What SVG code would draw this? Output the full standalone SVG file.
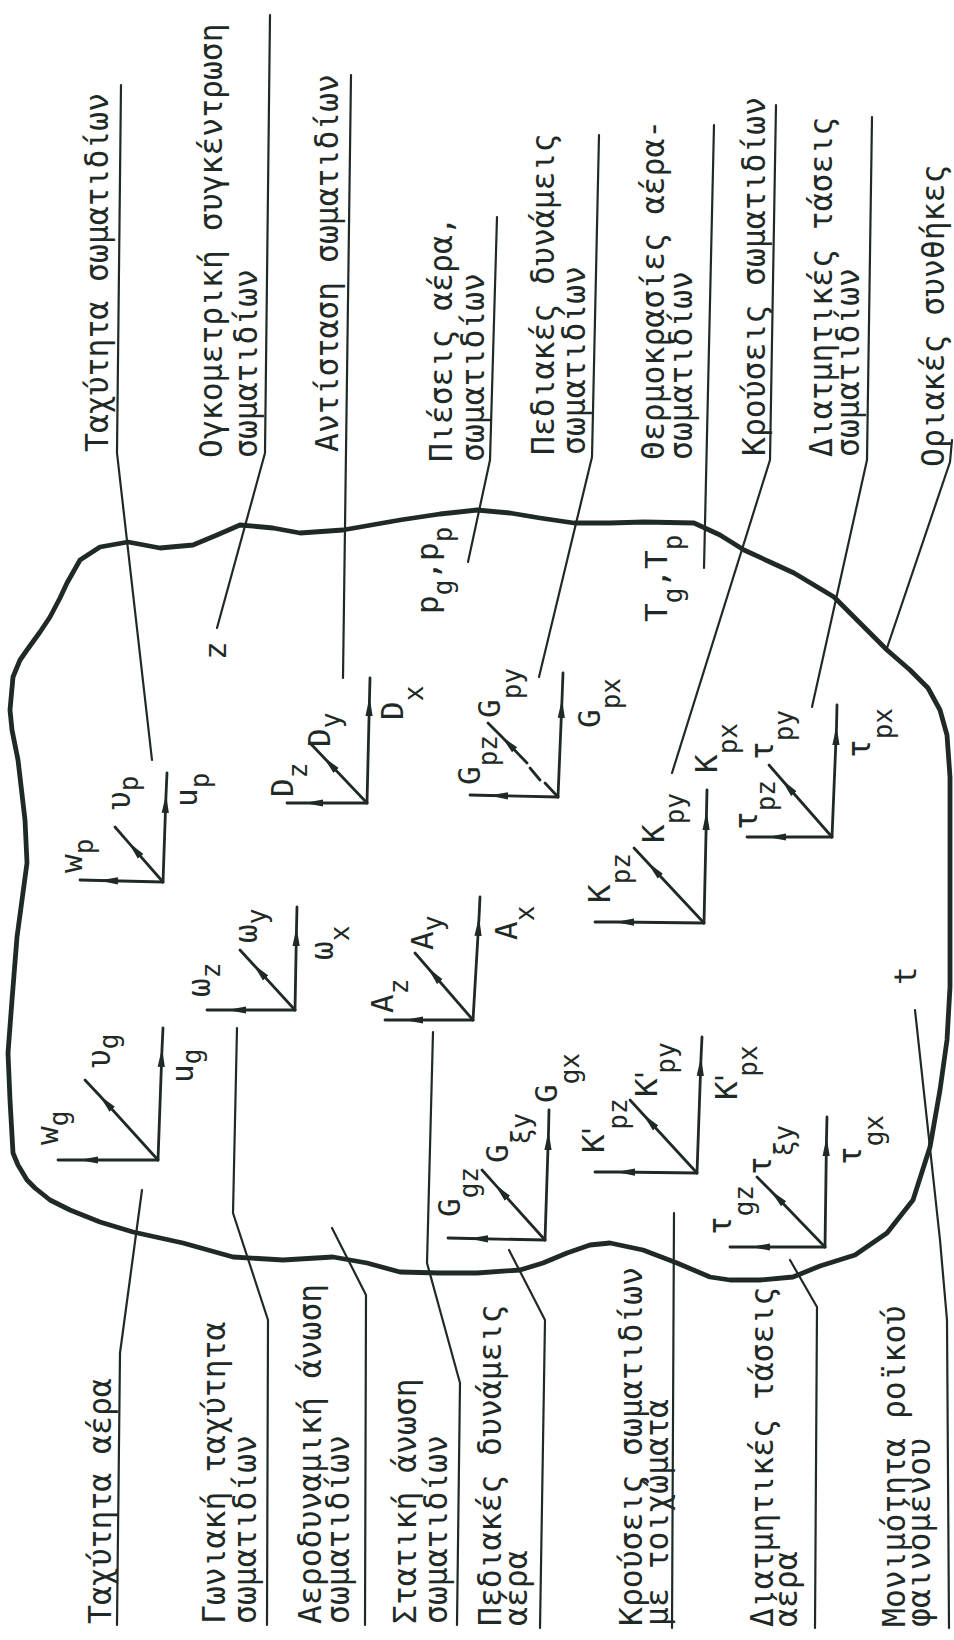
<svg xmlns="http://www.w3.org/2000/svg" width="954" height="1640" viewBox="0 0 954 1640">
<defs>
<style>
.ln{fill:none;stroke:#1f2a27;stroke-width:2.2;stroke-linecap:round;stroke-linejoin:round}
.ax{fill:none;stroke:#1f2a27;stroke-width:2.8;stroke-linecap:round}
.bd{fill:none;stroke:#1f2a27;stroke-width:4.8;stroke-linejoin:round;stroke-linecap:round}
text{font-family:"DejaVu Sans Mono","Liberation Mono",monospace;fill:#1f2a27}
.lb{font-size:31.4px}
.sy{font-size:31px}
.sb{font-size:26px}
</style>
<marker id="ah" viewBox="0 0 20 10" markerWidth="20" markerHeight="10" refX="18" refY="5" orient="auto" markerUnits="userSpaceOnUse"><path d="M0,1.4 L19,5 L0,8.6 Z" fill="#1f2a27"/></marker>
</defs>
<rect width="954" height="1640" fill="#ffffff"/>

<g id="boundary">
<path class="bd" d="M100,547 L128,542 L160,548 L193,545 L217,535 L240,525 L273,528 L300,533 L343,530 L400,520 L440,514 L477,510 L510,513 L540,518 L574,523 L610,523 L644,522 L694,523 L720,535 L744,550 L770,562 L794,573 L834,597 L860,623 L887,650 L910,670 L928,688 L940,710 L947,735 L950,777 L950,830 L950,900 L950,987 L947,1040 L940,1090 L930,1147 L913,1200 L887,1233 L855,1255 L820,1266 L793,1277 L760,1280 L730,1280 L710,1277 L677,1263 L643,1250 L610,1243 L590,1245 L567,1253 L543,1263 L520,1270 L477,1273 L440,1273 L400,1272 L367,1263 L333,1257 L283,1260 L233,1257 L183,1243 L133,1232 L100,1222 L70,1210 L50,1200 L35,1188 L27,1180 L18,1165 L13,1153 L10,1100 L8,1053 L12,1000 L17,937 L22,900 L27,863 L25,820 L20,777 L18,760 L12,730 L10,710 L13,677 L20,660 L27,650 L40,632 L50,617 L60,598 L67,583 L80,560 Z"/>
</g>

<g id="connectors">
<path class="ln" d="M121,85 L117,453 L152,760"/>
<path class="ln" d="M270,15 L265,453 L217,628"/>
<path class="ln" d="M351,75 L343,678"/>
<path class="ln" d="M497,217 L490,460 L468,562"/>
<path class="ln" d="M599,135 L592,457 L539,677"/>
<path class="ln" d="M714,125 L704,568"/>
<path class="ln" d="M776,105 L770,460 L672,773"/>
<path class="ln" d="M872,117 L867,460 L812,707"/>
<path class="ln" d="M952,440 L950,462 L887,648"/>
<path class="ln" d="M117,1625 L120,1353 L142,1190"/>
<path class="ln" d="M267,1625 L268,1320 L233,1213 L237,1028"/>
<path class="ln" d="M365,1625 L366,1295 L332,1228"/>
<path class="ln" d="M457,1625 L460,1383 L427,1263 L433,1032"/>
<path class="ln" d="M540,1628 L545,1320 L509,1250"/>
<path class="ln" d="M672,1628 L674,1213"/>
<path class="ln" d="M815,1628 L817,1307 L790,1260"/>
<path class="ln" d="M949,1628 L947,1320 L940,1240 L915,1010"/>
</g>

<g id="top-labels">
<g id="t-particle-velocity"><text class="lb" transform="translate(108,452) rotate(-90)">Ταχύτητα σωματιδίων</text></g>
<g id="t-volume-concentration"><text class="lb" transform="translate(222,458) rotate(-90)">Ογκομετρική συγκέντρωση</text><text class="lb" transform="translate(257,458) rotate(-90)">σωματιδίων</text></g>
<g id="t-particle-drag"><text class="lb" transform="translate(338,452) rotate(-90)">Αντίσταση σωματιδίων</text></g>
<g id="t-pressures"><text class="lb" transform="translate(452,462) rotate(-90)">Πιέσεις αέρα,</text><text class="lb" transform="translate(484,462) rotate(-90)">σωματιδίων</text></g>
<g id="t-particle-field-forces"><text class="lb" transform="translate(554,455) rotate(-90)">Πεδιακές δυνάμεις</text><text class="lb" transform="translate(585,455) rotate(-90)">σωματιδίων</text></g>
<g id="t-temperatures"><text class="lb" transform="translate(664,460) rotate(-90)">Θερμοκρασίες αέρα-</text><text class="lb" transform="translate(692,460) rotate(-90)">σωματιδίων</text></g>
<g id="t-particle-collisions"><text class="lb" transform="translate(765,456) rotate(-90)">Κρούσεις σωματιδίων</text></g>
<g id="t-particle-shear"><text class="lb" transform="translate(832,457) rotate(-90)">Διατμητικές τάσεις</text><text class="lb" transform="translate(859,457) rotate(-90)">σωματιδίων</text></g>
<g id="t-boundary-conditions"><text class="lb" transform="translate(944,467) rotate(-90)">Οριακές συνθήκες</text></g>
</g>

<g id="bottom-labels">
<g id="b-air-velocity"><text class="lb" transform="translate(111,1624) rotate(-90)">Ταχύτητα αέρα</text></g>
<g id="b-angular-velocity"><text class="lb" transform="translate(225,1624) rotate(-90)">Γωνιακή ταχύτητα</text><text class="lb" transform="translate(256,1624) rotate(-90)">σωματιδίων</text></g>
<g id="b-aero-lift"><text class="lb" transform="translate(321,1624) rotate(-90)">Αεροδυναμική άνωση</text><text class="lb" transform="translate(349,1624) rotate(-90)">σωματιδίων</text></g>
<g id="b-static-lift"><text class="lb" transform="translate(416,1624) rotate(-90)">Στατική άνωση</text><text class="lb" transform="translate(447,1624) rotate(-90)">σωματιδίων</text></g>
<g id="b-air-field-forces"><text class="lb" transform="translate(501,1626) rotate(-90)">Πεδιακές δυνάμεις</text><text class="lb" transform="translate(527,1626) rotate(-90)">αέρα</text></g>
<g id="b-wall-collisions"><text class="lb" transform="translate(642,1626) rotate(-90)">Κρούσεις σωματιδίων</text><text class="lb" transform="translate(668,1626) rotate(-90)">με τοιχώματα</text></g>
<g id="b-air-shear"><text class="lb" transform="translate(773,1627) rotate(-90)">Διατμητικές τάσεις</text><text class="lb" transform="translate(797,1627) rotate(-90)">αέρα</text></g>
<g id="b-steadiness"><text class="lb" transform="translate(905,1627) rotate(-90)">Μονιμότητα ροϊκού</text><text class="lb" transform="translate(930,1627) rotate(-90)">φαινομένου</text></g>
</g>

<g id="symbols">
<text class="sy" transform="translate(226,660) rotate(-90)">z</text>
<text class="sy" transform="translate(438,614) rotate(-90)">p<tspan class="sb" dy="14">g</tspan><tspan dy="-14">,p</tspan><tspan class="sb" dy="14">p</tspan></text>
<text class="sy" transform="translate(667,622) rotate(-90)">T<tspan class="sb" dy="15">g</tspan><tspan dy="-15">,T</tspan><tspan class="sb" dy="15">p</tspan></text>
<text class="sy" transform="translate(916,985) rotate(-90)">t</text>
</g>

<g id="air-velocity-axes">
<polyline class="ax" points="158,1160 80,1160 58,1160" marker-mid="url(#ah)"/>
<polyline class="ax" points="158,1160 162,1049 163,1028" marker-mid="url(#ah)"/>
<polyline class="ax" points="158,1160 100,1096 85,1080" marker-mid="url(#ah)"/>
<text class="sy" transform="translate(58,1145) rotate(-90)">w<tspan class="sb" dy="10">g</tspan></text>
<text class="sy" transform="translate(110,1068) rotate(-90)">υ<tspan class="sb" dy="8">g</tspan></text>
<text class="sy" transform="translate(193,1083) rotate(-90)">u<tspan class="sb" dy="8">g</tspan></text>
</g>

<g id="particle-velocity-axes">
<polyline class="ax" points="163,882 100,880.5 80,880" marker-mid="url(#ah)"/>
<polyline class="ax" points="163,882 166,795 167,773" marker-mid="url(#ah)"/>
<polyline class="ax" points="163,882 128.8,842.8 115,827" marker-mid="url(#ah)"/>
<text class="sy" transform="translate(82,873) rotate(-90)">w<tspan class="sb" dy="11">p</tspan></text>
<text class="sy" transform="translate(130,810) rotate(-90)">υ<tspan class="sb" dy="8">p</tspan></text>
<text class="sy" transform="translate(197,807) rotate(-90)">u<tspan class="sb" dy="12">p</tspan></text>
</g>

<g id="angular-velocity-axes">
<polyline class="ax" points="295,1010 228,1010 207,1010" marker-mid="url(#ah)"/>
<polyline class="ax" points="295,1010 296.5,928 297,907" marker-mid="url(#ah)"/>
<polyline class="ax" points="295,1010 253.5,964.7 240,950" marker-mid="url(#ah)"/>
<text class="sy" transform="translate(210,997) rotate(-90)">ω<tspan class="sb" dy="10">z</tspan></text>
<text class="sy" transform="translate(257,943) rotate(-90)">ω<tspan class="sb" dy="9">y</tspan></text>
<text class="sy" transform="translate(333,960) rotate(-90)">ω<tspan class="sb" dy="16">x</tspan></text>
</g>

<g id="static-lift-axes">
<polyline class="ax" points="473,1020 405,1020 385,1020" marker-mid="url(#ah)"/>
<polyline class="ax" points="473,1020 479,918 480,897" marker-mid="url(#ah)"/>
<polyline class="ax" points="473,1020 428,968 415,953" marker-mid="url(#ah)"/>
<text class="sy" transform="translate(393,1013) rotate(-90)">A<tspan class="sb" dy="15">z</tspan></text>
<text class="sy" transform="translate(433,950) rotate(-90)">A<tspan class="sb" dy="9">y</tspan></text>
<text class="sy" transform="translate(517,940) rotate(-90)">A<tspan class="sb" dy="17">x</tspan></text>
</g>

<g id="drag-axes">
<polyline class="ax" points="367,803 305,803 287,803" marker-mid="url(#ah)"/>
<polyline class="ax" points="367,803 369.5,698 370,678" marker-mid="url(#ah)"/>
<polyline class="ax" points="367,803 323.8,757.5 310,743" marker-mid="url(#ah)"/>
<text class="sy" transform="translate(293,797) rotate(-90)">D<tspan class="sb" dy="14">z</tspan></text>
<text class="sy" transform="translate(330,747) rotate(-90)">D<tspan class="sb" dy="10">y</tspan></text>
<text class="sy" transform="translate(403,720) rotate(-90)">D<tspan class="sb" dy="20">x</tspan></text>
</g>

<g id="particle-field-force-axes">
<polyline class="ax" points="558,797 490,795.5 470,795" marker-mid="url(#ah)"/>
<polyline class="ax" points="558,797 562,700 563,673" marker-mid="url(#ah)"/>
<polyline class="ax" points="527,763 502,737 488,723" marker-mid="url(#ah)"/>
<line class="ax" x1="530" y1="768" x2="540" y2="780"/>
<line class="ax" x1="545" y1="783" x2="558" y2="797"/>
<text class="sy" transform="translate(480,785) rotate(-90)">G<tspan class="sb" dy="17">pz</tspan></text>
<text class="sy" transform="translate(500,718) rotate(-90)">G<tspan class="sb" dy="21">py</tspan></text>
<text class="sy" transform="translate(600,728) rotate(-90)">G<tspan class="sb" dy="20">px</tspan></text>
</g>

<g id="particle-collision-axes">
<polyline class="ax" points="704,923 616,922 595,922" marker-mid="url(#ah)"/>
<polyline class="ax" points="704,923 706.5,812 707,790" marker-mid="url(#ah)"/>
<polyline class="ax" points="704,923 648,863 634,848" marker-mid="url(#ah)"/>
<text class="sy" transform="translate(610,903) rotate(-90)">K<tspan class="sb" dy="20">pz</tspan></text>
<text class="sy" transform="translate(664,843) rotate(-90)">K<tspan class="sb" dy="20">py</tspan></text>
<text class="sy" transform="translate(717,773) rotate(-90)">K<tspan class="sb" dy="20">px</tspan></text>
</g>

<g id="particle-shear-axes">
<polyline class="ax" points="832,837 768,837 747,837" marker-mid="url(#ah)"/>
<polyline class="ax" points="832,837 836.5,727 837,705" marker-mid="url(#ah)"/>
<polyline class="ax" points="832,837 782,780 769,765" marker-mid="url(#ah)"/>
<text class="sy" transform="translate(757,830) rotate(-90)">τ<tspan class="sb" dy="18">pz</tspan></text>
<text class="sy" transform="translate(773,760) rotate(-90)">τ<tspan class="sb" dy="20">py</tspan></text>
<text class="sy" transform="translate(870,758) rotate(-90)">τ<tspan class="sb" dy="22">px</tspan></text>
</g>

<g id="air-field-force-axes">
<polyline class="ax" points="545,1240 470,1238.5 448,1238" marker-mid="url(#ah)"/>
<polyline class="ax" points="545,1240 548.5,1132 549,1110" marker-mid="url(#ah)"/>
<polyline class="ax" points="545,1240 495.4,1184.9 482,1170" marker-mid="url(#ah)"/>
<text class="sy" transform="translate(460,1217) rotate(-90)">G<tspan class="sb" dy="18">gz</tspan></text>
<text class="sy" transform="translate(508,1163) rotate(-90)">G<tspan class="sb" dy="22">ξy</tspan></text>
<text class="sy" transform="translate(557,1103) rotate(-90)">G<tspan class="sb" dy="22">gx</tspan></text>
</g>

<g id="wall-collision-axes">
<polyline class="ax" points="697,1173 617,1172 595,1172" marker-mid="url(#ah)"/>
<polyline class="ax" points="697,1173 701,1058 702,1037" marker-mid="url(#ah)"/>
<polyline class="ax" points="697,1173 643.5,1114.7 630,1100" marker-mid="url(#ah)"/>
<text class="sy" transform="translate(604,1153) rotate(-90)">K<tspan dx="-6">'</tspan><tspan class="sb" dx="-8" dy="23">pz</tspan></text>
<text class="sy" transform="translate(657,1097) rotate(-90)">K<tspan dx="-6">'</tspan><tspan class="sb" dx="-8" dy="18">py</tspan></text>
<text class="sy" transform="translate(737,1100) rotate(-90)">K<tspan dx="-6">'</tspan><tspan class="sb" dx="-8" dy="20">px</tspan></text>
</g>

<g id="air-shear-axes">
<polyline class="ax" points="825,1247 752,1247 730,1247" marker-mid="url(#ah)"/>
<polyline class="ax" points="825,1247 826.5,1138 827,1117" marker-mid="url(#ah)"/>
<polyline class="ax" points="825,1247 771,1191 757,1177" marker-mid="url(#ah)"/>
<text class="sy" transform="translate(731,1235) rotate(-90)">τ<tspan class="sb" dy="22">gz</tspan></text>
<text class="sy" transform="translate(771,1175) rotate(-90)">τ<tspan class="sb" dy="22">ξy</tspan></text>
<text class="sy" transform="translate(861,1165) rotate(-90)">τ<tspan class="sb" dy="22">gx</tspan></text>
</g>
</svg>
